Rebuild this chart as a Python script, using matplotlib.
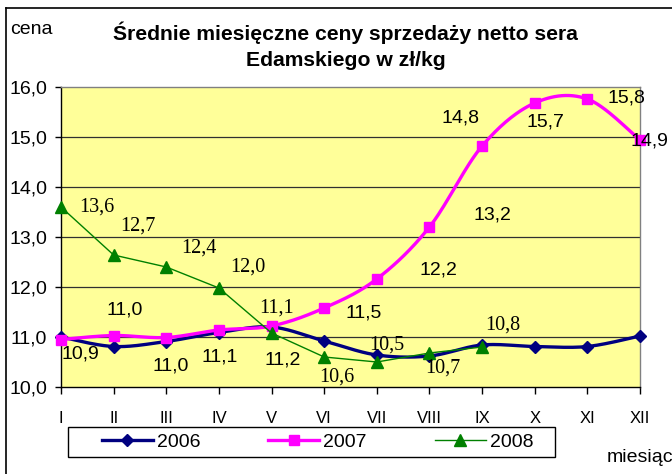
import numpy as np
import matplotlib
matplotlib.use("Agg")
import matplotlib.pyplot as plt
from matplotlib.lines import Line2D
from matplotlib.patches import Rectangle

months = ["I", "II", "III", "IV", "V", "VI", "VII", "VIII", "IX", "X", "XI", "XII"]
v2006 = [11.0, 10.81, 10.91, 11.09, 11.2, 10.92, 10.64, 10.62, 10.84, 10.81, 10.81, 11.02]
v2007 = [10.95, 11.03, 10.99, 11.14, 11.22, 11.58, 12.16, 13.2, 14.82, 15.68, 15.76, 14.94]
lab2007 = ["10,9", "11,0", "11,0", "11,1", "11,2", "11,5", "12,2", "13,2", "14,8", "15,7", "15,8", "14,9"]
v2008 = [13.6, 12.64, 12.4, 11.98, 11.08, 10.6, 10.5, 10.68, 10.8]
lab2008 = ["13,6", "12,7", "12,4", "12,0", "11,1", "10,6", "10,5", "10,7", "10,8"]
yticks = [10, 11, 12, 13, 14, 15, 16]
ytick_labels = ["10,0", "11,0", "12,0", "13,0", "14,0", "15,0", "16,0"]
series_names = ["2006", "2007", "2008"]

# label offsets in pixels (relative to the data point)
off2007 = [(19, -15), (11, 25), (4, -29), (1, -27), (11, -34), (40, -5),
           (62, 9), (63, 12), (-22, 28), (11, -19), (39, 1), (9, -1)]
off2008 = [(36, 0), (24, 29), (33, 19), (29, 21), (5, 25), (13, -20),
           (10, 17), (13, -15), (21, 22)]

SANS = "Liberation Sans"
SERIF = "Liberation Serif"


def smooth(xs, ys, n=30):
    xs = np.asarray(xs, float)
    ys = np.asarray(ys, float)
    px, py = [], []
    m = len(xs)
    for i in range(m - 1):
        x0, y0 = xs[max(i - 1, 0)], ys[max(i - 1, 0)]
        x1, y1 = xs[i], ys[i]
        x2, y2 = xs[i + 1], ys[i + 1]
        x3, y3 = xs[min(i + 2, m - 1)], ys[min(i + 2, m - 1)]
        c1x, c1y = x1 + (x2 - x0) / 6, y1 + (y2 - y0) / 6
        c2x, c2y = x2 - (x3 - x1) / 6, y2 - (y3 - y1) / 6
        t = np.linspace(0, 1, n)
        bx = (1 - t) ** 3 * x1 + 3 * (1 - t) ** 2 * t * c1x + 3 * (1 - t) * t ** 2 * c2x + t ** 3 * x2
        by = (1 - t) ** 3 * y1 + 3 * (1 - t) ** 2 * t * c1y + 3 * (1 - t) * t ** 2 * c2y + t ** 3 * y2
        px.extend(bx if i == 0 else bx[1:])
        py.extend(by if i == 0 else by[1:])
    return np.array(px), np.array(py)


fig = plt.figure(figsize=(6.72, 4.74), dpi=100)
W, H = 672, 474
ax = fig.add_axes([61 / W, 1 - 387 / H, (640 - 61) / W, (387 - 87) / H])
ax.set_facecolor("#FFFF99")

x = np.arange(len(months))
ax.set_xlim(0, len(months) - 1)
ax.set_ylim(10, 16)

for yv in yticks[1:-1]:
    ax.axhline(yv, color="#303030", lw=0.9, zorder=1)

# 2006
sx, sy = smooth(x, v2006)
ax.plot(sx, sy, color="#000080", lw=2.4, zorder=3, clip_on=False)
ax.plot(x, v2006, ls="none", marker="D", ms=6.5, color="#000080", zorder=4, clip_on=False)
# 2007
sx, sy = smooth(x, v2007)
ax.plot(sx, sy, color="#FF00FF", lw=2.4, zorder=5, clip_on=False)
ax.plot(x, v2007, ls="none", marker="s", ms=7, color="#FF00FF", zorder=6, clip_on=False)
# 2008
x8 = np.arange(len(v2008))
ax.plot(x8, v2008, color="#008000", lw=1.0, marker="^", ms=8, zorder=7, clip_on=False)

for xi, yi, lab, off in zip(x, v2007, lab2007, off2007):
    ax.annotate(lab, (xi, yi), xytext=off, textcoords="offset pixels",
                ha="center", va="center", fontsize=14, family=SANS, zorder=10,
                annotation_clip=False)
for xi, yi, lab, off in zip(x8, v2008, lab2008, off2008):
    ax.annotate(lab, (xi, yi), xytext=off, textcoords="offset pixels",
                ha="center", va="center", fontsize=14.5, family=SERIF, zorder=10,
                annotation_clip=False)

ax.set_yticks(yticks)
ax.set_yticklabels(ytick_labels, fontsize=14, family=SANS)
ax.set_xticks(x)
ax.set_xticklabels(months, fontsize=12, family=SANS)
ax.tick_params(axis="y", direction="out", length=4, width=1, pad=6)
ax.tick_params(axis="x", direction="out", length=5, width=1, pad=12)

for s in ["top", "right"]:
    ax.spines[s].set_color("#808080")
    ax.spines[s].set_linewidth(1)
for s in ["left", "bottom"]:
    ax.spines[s].set_color("black")
    ax.spines[s].set_linewidth(1)

# legend
handles = [
    Line2D([], [], color="#000080", lw=2.4, marker="D", ms=6.5),
    Line2D([], [], color="#FF00FF", lw=2.4, marker="s", ms=7),
    Line2D([], [], color="#008000", lw=1.0, marker="^", ms=8),
]
fig.add_artist(Rectangle((68 / W, 1 - 457 / H), (555 - 68) / W, 30 / H,
                         transform=fig.transFigure, facecolor="white",
                         edgecolor="black", lw=1, zorder=1))
leg = fig.legend(handles, series_names, ncol=3,
                 loc="center left", bbox_to_anchor=(102 / W, 1 - 442 / H),
                 prop={"family": SANS, "size": 14}, frameon=False,
                 handlelength=2.62, handletextpad=0.2,
                 columnspacing=3.5, borderpad=0, borderaxespad=0)
leg.set_zorder(2)

fig.text(345 / W, 1 - 33 / H, "Średnie miesięczne ceny sprzedaży netto sera",
         ha="center", va="center", fontsize=15.2, fontweight="bold", family=SANS)
fig.text(346 / W, 1 - 61 / H, "Edamskiego w zł/kg",
         ha="center", va="center", fontsize=15.2, fontweight="bold", family=SANS)
fig.text(10 / W, 1 - 30 / H, "cena", ha="left", va="center", fontsize=14, family=SANS)
fig.text(607 / W, 1 - 458 / H, "miesiąc", ha="left", va="center", fontsize=14, family=SANS)

fig.add_artist(Line2D([6 / W, 6 / W], [0, 1 - 8 / H], color="black", lw=1.2, transform=fig.transFigure))
fig.add_artist(Line2D([6 / W, 1], [1 - 8 / H, 1 - 8 / H], color="black", lw=1.2, transform=fig.transFigure))

fig.savefig("out.png", dpi=100, facecolor="white")
